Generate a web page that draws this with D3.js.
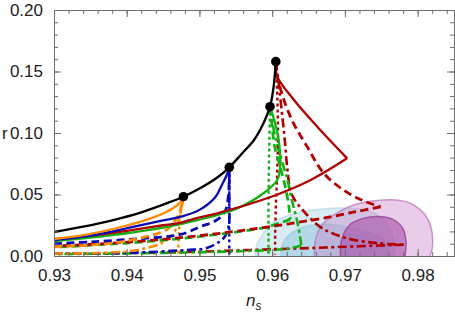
<!DOCTYPE html>
<html>
<head>
<meta charset="utf-8">
<script src="https://cdn.jsdelivr.net/npm/d3@7"></script>
<style>
  html, body { margin: 0; padding: 0; background: #fff; }
  svg { display: block; }
  .tick-label { font-family: "Liberation Sans", Arial, sans-serif; font-size: 17px; fill: #222; }
</style>
</head>
<body>
<svg id="chart" width="455" height="312"></svg>
<script>
// ---- data ----
const xTicks = [0.93, 0.94, 0.95, 0.96, 0.97, 0.98];
const yTicks = [0.00, 0.05, 0.10, 0.15, 0.20];

// black envelope and its marked points
const blackCurve = [[0.930,0.0195],[0.934,0.0238],[0.938,0.0290],[0.942,0.0355],[0.945,0.0418],[0.9478,0.0482],
  [0.9505,0.0565],[0.9525,0.0640],[0.9541,0.0721],[0.9558,0.0830],[0.9575,0.0943],[0.9588,0.1080],
  [0.9597,0.1214],[0.9602,0.1377],[0.9605,0.1580]];
const dots = [[0.9478,0.0482],[0.9541,0.0721],[0.9597,0.1214],[0.9605,0.1580]];

// orange
const orangeSolid = [[0.930,0.0138],[0.935,0.0180],[0.940,0.0248],[0.943,0.0300],[0.9455,0.0360],[0.947,0.0415],[0.9478,0.0482]];
const orangeDashed = [[0.930,0.0076],[0.934,0.0085],[0.938,0.0105],[0.9425,0.0155],[0.9455,0.0215],[0.9468,0.0300],[0.9474,0.0380],[0.9478,0.0482]];
const orangeDashDot = [[0.930,0.0020],[0.938,0.0028],[0.942,0.0055],[0.945,0.0110],[0.9465,0.0190],[0.9472,0.0300],[0.9478,0.0482]];
const orangeDotted = [[0.9478,0.0482],[0.9474,0.0350],[0.9472,0.0200],[0.9471,0.0050],[0.9471,0.0012]];

// blue
const blueSolid = [[0.930,0.0130],[0.935,0.0165],[0.9415,0.0245],[0.945,0.0290],[0.9475,0.0320],[0.950,0.0375],
  [0.9522,0.0480],[0.9531,0.0580],[0.9538,0.0665],[0.9541,0.0721]];
const blueDashed = [[0.930,0.0100],[0.935,0.0115],[0.9415,0.0140],[0.9474,0.0175],[0.9501,0.0238],[0.9524,0.0293],
  [0.9536,0.0374],[0.9540,0.0510],[0.9541,0.0721]];
const blueDashDot = [[0.930,0.0020],[0.940,0.0025],[0.9483,0.0049],[0.951,0.0065],[0.9533,0.0144],[0.9540,0.0238],
  [0.9541,0.0455],[0.9541,0.0721]];
const blueDotted = [[0.9541,0.0721],[0.9541,0.0300],[0.9541,0.0012]];

// green
const greenSolid = [[0.930,0.0122],[0.935,0.0150],[0.940,0.0185],[0.945,0.0230],[0.950,0.0295],[0.9552,0.0387],
  [0.9588,0.0510],[0.9607,0.0618],[0.9611,0.0726],[0.9609,0.0940],[0.9604,0.1080],[0.9597,0.1214]];
const greenDashedDown = [[0.9597,0.1214],[0.9600,0.1050],[0.9603,0.0900],[0.9611,0.0726],[0.9618,0.0563],[0.9623,0.0400],
  [0.9625,0.0300]];
const greenDashedBack = [[0.9625,0.0300],[0.9614,0.0275],[0.9600,0.0248],[0.9584,0.0225],[0.950,0.0158],[0.940,0.0105],[0.930,0.0072]];
const greenDashDotDown = [[0.9597,0.1214],[0.9603,0.1000],[0.9612,0.0800],[0.9621,0.0618],[0.9627,0.0455],[0.9634,0.0293],
  [0.9639,0.0130],[0.9640,0.0085]];
const greenDashDotBack = [[0.9640,0.0085],[0.9620,0.0058],[0.9570,0.0042],[0.950,0.0030],[0.940,0.0021],[0.930,0.0015]];
const greenDotted = [[0.9597,0.1214],[0.9596,0.0900],[0.9595,0.0500],[0.9595,0.0150],[0.9595,0.0012]];

// dark red
const redSolidLower = [[0.930,0.0137],[0.935,0.0165],[0.940,0.0205],[0.945,0.0250],[0.9474,0.0270],[0.949,0.0298],
  [0.9529,0.0355],[0.9598,0.0480],[0.9653,0.0618],[0.9703,0.0794]];
const redSolidUpper = [[0.9703,0.0794],[0.9662,0.1051],[0.9630,0.1268],[0.9607,0.1458],[0.9605,0.1580]];
const redDashedDown = [[0.9605,0.1580],[0.9607,0.1458],[0.9625,0.1133],[0.9648,0.0889],[0.9671,0.0672],[0.9698,0.0537],
  [0.9725,0.0450],[0.9749,0.0400]];
const redDashedBack = [[0.9749,0.0400],[0.9715,0.0360],[0.9669,0.0306],[0.9623,0.0262],[0.9577,0.0222],
  [0.950,0.0165],[0.940,0.0112],[0.930,0.0080]];
const redDashDotDown = [[0.9605,0.1580],[0.9609,0.1400],[0.9614,0.1130],[0.9618,0.0900],[0.9621,0.0700],[0.9627,0.0500],
  [0.9646,0.0347],[0.9669,0.0225],[0.9703,0.0144],[0.9744,0.0105],[0.9781,0.0092]];
const redDashDotBack = [[0.9781,0.0092],[0.970,0.0075],[0.963,0.0060],[0.957,0.0049],[0.950,0.0035],[0.940,0.0024],[0.930,0.0018]];
const redDotted = [[0.9605,0.1580],[0.9607,0.1300],[0.9608,0.1000],[0.9607,0.0700],[0.9605,0.0400],[0.9604,0.0100],[0.9604,0.0012]];

// observational contours (closed, cut at r = 0)
const blueOuter = [[0.9576,-0.003],[0.9579,0.009],[0.9590,0.020],[0.9602,0.028],[0.9616,0.0315],[0.9640,0.0360],
  [0.9662,0.0378],[0.9690,0.0390],[0.9715,0.0385],[0.9740,0.0350],[0.9758,0.0260],[0.9766,0.0150],[0.9768,-0.003]];
const blueInner = [[0.9612,-0.003],[0.9614,0.009],[0.9625,0.018],[0.9639,0.0228],[0.9660,0.0255],[0.9685,0.0255],
  [0.9710,0.0225],[0.9735,0.0185],[0.9754,0.0120],[0.9760,-0.003]];
const purpleOuter = [[0.9658,-0.003],[0.9660,0.0144],[0.9668,0.0250],[0.9685,0.0335],[0.9710,0.0410],[0.9735,0.0445],
  [0.9763,0.0458],[0.9785,0.0440],[0.9802,0.0385],[0.9815,0.0290],[0.9820,0.0180],[0.9820,0.0060],[0.9815,-0.003]];
const purpleInner = [[0.9694,-0.003],[0.9696,0.0144],[0.9708,0.0260],[0.9725,0.0305],[0.9744,0.0322],[0.9765,0.0300],
  [0.9779,0.0230],[0.9784,0.0120],[0.9782,-0.003]];

// ---- layout ----
const m = {left: 54, right: 454, top: 10, bottom: 256};

const x = d3.scaleLinear().domain([0.93, 0.985]).range([m.left, m.right]);
const y = d3.scaleLinear().domain([0, 0.2]).range([m.bottom, m.top]);

const svg = d3.select('#chart');

svg.append('clipPath').attr('id', 'plotClip')
  .append('rect')
  .attr('x', m.left).attr('y', m.top)
  .attr('width', m.right - m.left).attr('height', m.bottom - m.top);

const plot = svg.append('g').attr('clip-path', 'url(#plotClip)');

// contours
const blob = d3.line()
  .curve(d3.curveCatmullRom.alpha(0.5))
  .x(d => x(d[0]))
  .y(d => y(d[1]));

const regions = [
  {data: blueOuter, fill: '#a6d4e6', opacity: 0.45, stroke: '#b9dcea'},
  {data: blueInner, fill: '#88c4dc', opacity: 0.45, stroke: '#9fcde0'},
  {data: purpleOuter, fill: '#c77fc7', opacity: 0.4, stroke: '#c27dc2'},
  {data: purpleInner, fill: '#a94fa9', opacity: 0.6, stroke: '#9a3f9a'}
];

regions.forEach(reg => {
  plot.append('path')
    .attr('d', blob(reg.data) + 'Z')
    .attr('fill', reg.fill)
    .attr('fill-opacity', reg.opacity)
    .attr('stroke', reg.stroke)
    .attr('stroke-opacity', 0.8)
    .attr('stroke-width', 1.5);
});

// model curves
const curve = d3.line()
  .curve(d3.curveCatmullRom.alpha(0.5))
  .x(d => x(d[0]))
  .y(d => y(d[1]));

const orange = '#ff8a00', blue = '#0a0ab0', green = '#14b014', red = '#b00000';
const dashed = '8,4.5', dotted = '3,3', dashDot = '9,3.5,3,3.5';

const series = [
  {data: redDashDotDown, color: red, dash: dashDot, width: 2.6},
  {data: redDashDotBack, color: red, dash: dashDot, width: 2.6},
  {data: greenDashDotDown, color: green, dash: dashDot, width: 2.6},
  {data: greenDashDotBack, color: green, dash: dashDot, width: 2.6},
  {data: blueDashDot, color: blue, dash: dashDot, width: 2.6},
  {data: orangeDashDot, color: orange, dash: dashDot, width: 2.6},
  {data: redDotted, color: red, dash: dotted, width: 2.4},
  {data: greenDotted, color: green, dash: dotted, width: 2.4},
  {data: blueDotted, color: blue, dash: dotted, width: 2.4},
  {data: orangeDotted, color: orange, dash: dotted, width: 2.4},
  {data: greenDashedDown, color: green, dash: dashed, width: 2.8},
  {data: greenDashedBack, color: green, dash: dashed, width: 2.8},
  {data: redDashedDown, color: red, dash: dashed, width: 2.8},
  {data: redDashedBack, color: red, dash: dashed, width: 2.8},
  {data: blueDashed, color: blue, dash: dashed, width: 2.8},
  {data: orangeDashed, color: orange, dash: dashed, width: 2.8},
  {data: greenSolid, color: green, dash: null, width: 2.3},
  {data: redSolidLower, color: red, dash: null, width: 2.3},
  {data: redSolidUpper, color: red, dash: null, width: 2.3},
  {data: blueSolid, color: blue, dash: null, width: 2.3},
  {data: orangeSolid, color: orange, dash: null, width: 2.3},
  {data: blackCurve, color: '#000', dash: null, width: 2.3}
];

series.forEach(s => {
  plot.append('path')
    .datum(s.data)
    .attr('d', curve)
    .attr('fill', 'none')
    .attr('stroke', s.color)
    .attr('stroke-width', s.width)
    .attr('stroke-dasharray', s.dash)
    .attr('stroke-linejoin', 'round');
});

plot.selectAll('circle.dot')
  .data(dots)
  .enter().append('circle')
  .attr('class', 'dot')
  .attr('cx', d => x(d[0]))
  .attr('cy', d => y(d[1]))
  .attr('r', 4.8)
  .attr('fill', '#000');

// ---- frame with inward ticks ----
const frameColor = '#6e6e6e';
const xMinor = d3.range(0.930, 0.9851, 0.002);
const yMinor = d3.range(0, 0.2001, 0.01);

const xAxisB = d3.axisBottom(x).tickValues(xTicks).tickSize(-7).tickFormat(d3.format('.2f')).tickPadding(13);
const xAxisT = d3.axisTop(x).tickValues(xTicks).tickSize(-7).tickFormat('');
const yAxisL = d3.axisLeft(y).tickValues(yTicks).tickSize(-7).tickFormat(d3.format('.2f')).tickPadding(11);
const yAxisR = d3.axisRight(y).tickValues(yTicks).tickSize(-7).tickFormat('');

const minorB = d3.axisBottom(x).tickValues(xMinor).tickSize(-4).tickFormat('');
const minorT = d3.axisTop(x).tickValues(xMinor).tickSize(-4).tickFormat('');
const minorL = d3.axisLeft(y).tickValues(yMinor).tickSize(-4).tickFormat('');
const minorR = d3.axisRight(y).tickValues(yMinor).tickSize(-4).tickFormat('');

function frameAxis(axis, tx, ty) {
  const g = svg.append('g').attr('transform', `translate(${tx},${ty})`).call(axis);
  g.selectAll('path.domain').attr('stroke', frameColor).attr('stroke-width', 1);
  g.selectAll('.tick line').attr('stroke', frameColor).attr('stroke-width', 1);
  g.selectAll('.tick text').attr('class', 'tick-label').attr('fill', '#222');
  return g;
}

frameAxis(minorB, 0, m.bottom);
frameAxis(minorT, 0, m.top);
frameAxis(minorL, m.left, 0);
frameAxis(minorR, m.right, 0);
frameAxis(xAxisB, 0, m.bottom);
frameAxis(xAxisT, 0, m.top);
frameAxis(yAxisL, m.left, 0);
frameAxis(yAxisR, m.right, 0);

// axis titles
svg.append('text')
  .attr('x', 2).attr('y', y(0.1) + 6)
  .attr('class', 'tick-label')
  .text('r');

const nsLabel = svg.append('text')
  .attr('x', 246).attr('y', 306)
  .attr('class', 'tick-label')
  .style('font-style', 'italic');
nsLabel.append('tspan').text('n');
nsLabel.append('tspan').attr('dy', 4).style('font-size', '12px').text('s');
</script>
</body>
</html>
